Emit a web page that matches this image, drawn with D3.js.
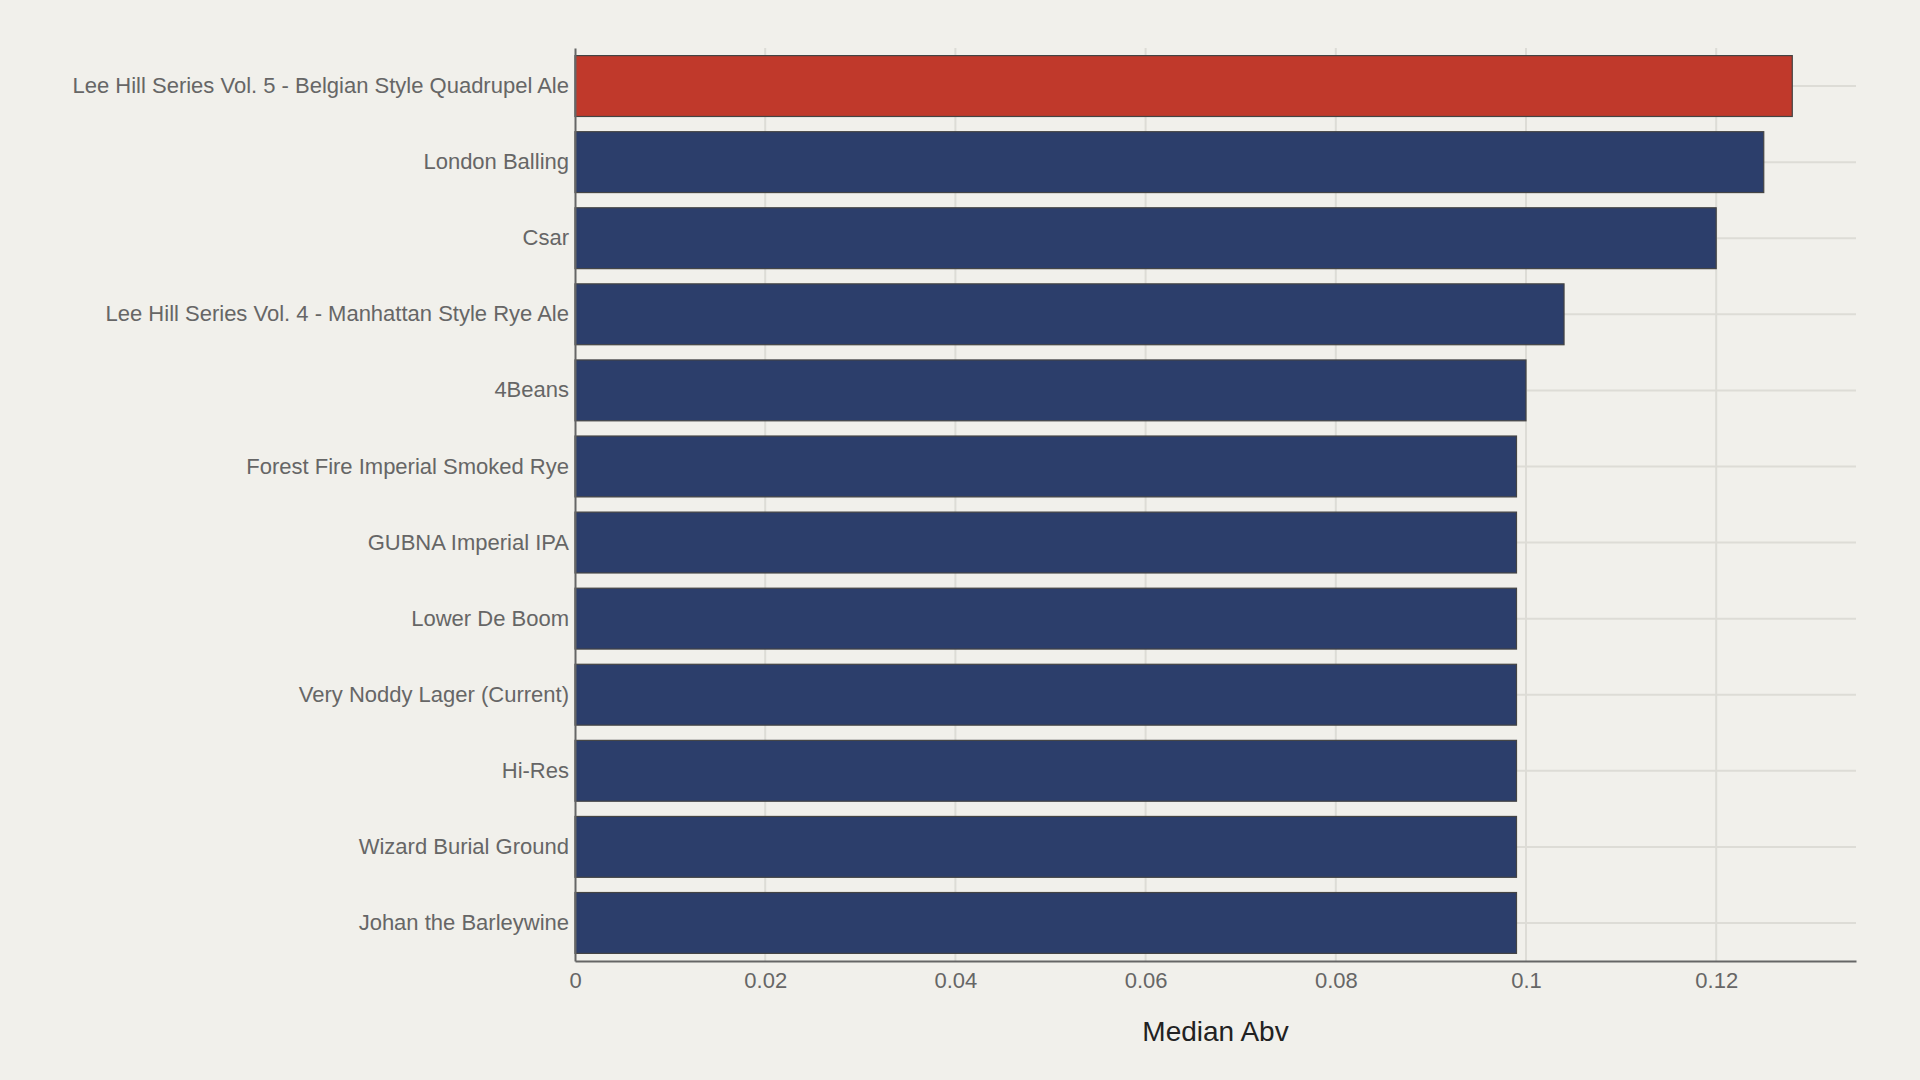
<!DOCTYPE html>
<html lang="en">
<head>
<meta charset="UTF-8">
<title>Median Abv</title>
<script src="https://cdn.jsdelivr.net/npm/d3@7"></script>
<style>
  * { margin: 0; padding: 0; }
  body { background: #f1f0eb; width: 1920px; height: 1080px; overflow: hidden; }
  svg { font-family: "Liberation Sans", Arial, sans-serif; }
</style>
</head>
<body>
<div id="chart"></div>
<script>
// beer names, top to bottom
const beers = [
  'Lee Hill Series Vol. 5 - Belgian Style Quadrupel Ale',
  'London Balling',
  'Csar',
  'Lee Hill Series Vol. 4 - Manhattan Style Rye Ale',
  '4Beans',
  'Forest Fire Imperial Smoked Rye',
  'GUBNA Imperial IPA',
  'Lower De Boom',
  'Very Noddy Lager (Current)',
  'Hi-Res',
  'Wizard Burial Ground',
  'Johan the Barleywine'
];
const medianAbv = [0.128, 0.125, 0.12, 0.104, 0.1, 0.099, 0.099, 0.099, 0.099, 0.099, 0.099, 0.099];
const xTicks = [0, 0.02, 0.04, 0.06, 0.08, 0.1, 0.12];
const xTitle = 'Median Abv';

const W = 1920, H = 1080;
const margin = { top: 48, right: 64, bottom: 119, left: 575 };

const svg = d3.select('#chart').append('svg')
  .attr('width', W).attr('height', H);

const x = d3.scaleLinear()
  .domain([0, 0.1347])
  .range([margin.left, W - margin.right]);

const y = d3.scaleBand()
  .domain(beers)
  .range([margin.top, H - margin.bottom])
  .paddingInner(0.2)
  .paddingOuter(0.1);

// grid
svg.append('g').selectAll('line.vg')
  .data(xTicks.slice(1))
  .join('line')
  .attr('x1', d => x(d)).attr('x2', d => x(d))
  .attr('y1', margin.top).attr('y2', H - margin.bottom)
  .attr('stroke', '#dddcd6').attr('stroke-width', 2);

svg.append('g').selectAll('line.hg')
  .data(beers)
  .join('line')
  .attr('x1', margin.left).attr('x2', W - margin.right)
  .attr('y1', d => y(d) + y.bandwidth() / 2).attr('y2', d => y(d) + y.bandwidth() / 2)
  .attr('stroke', '#dddcd6').attr('stroke-width', 2);

// bars
svg.append('g').selectAll('rect')
  .data(beers)
  .join('rect')
  .attr('x', x(0))
  .attr('y', d => y(d))
  .attr('width', (d, i) => x(medianAbv[i]) - x(0))
  .attr('height', y.bandwidth())
  .attr('fill', (d, i) => i === 0 ? '#c0392b' : '#2c3e6b')
  .attr('stroke', '#444')
  .attr('stroke-width', 1.2);

// y axis
const yAxis = svg.append('g')
  .attr('transform', `translate(${margin.left},0)`)
  .call(d3.axisLeft(y).tickSize(0).tickPadding(6));
yAxis.select('.domain').attr('stroke', '#666').attr('stroke-width', 2);
yAxis.selectAll('text').attr('font-size', 22).attr('fill', '#666')
  .attr('font-family', '"Liberation Sans", Arial, sans-serif');

// x axis
const xAxis = svg.append('g')
  .attr('transform', `translate(0,${H - margin.bottom})`)
  .call(d3.axisBottom(x).tickValues(xTicks).tickFormat(d => String(d)).tickSize(0).tickPadding(11));
xAxis.select('.domain').attr('stroke', '#666').attr('stroke-width', 2);
xAxis.selectAll('text').attr('font-size', 22).attr('fill', '#666')
  .attr('font-family', '"Liberation Sans", Arial, sans-serif');

svg.append('text')
  .attr('x', (margin.left + W - margin.right) / 2)
  .attr('y', 1041)
  .attr('text-anchor', 'middle')
  .attr('font-size', 28)
  .attr('fill', '#222')
  .text(xTitle);
</script>
</body>
</html>
